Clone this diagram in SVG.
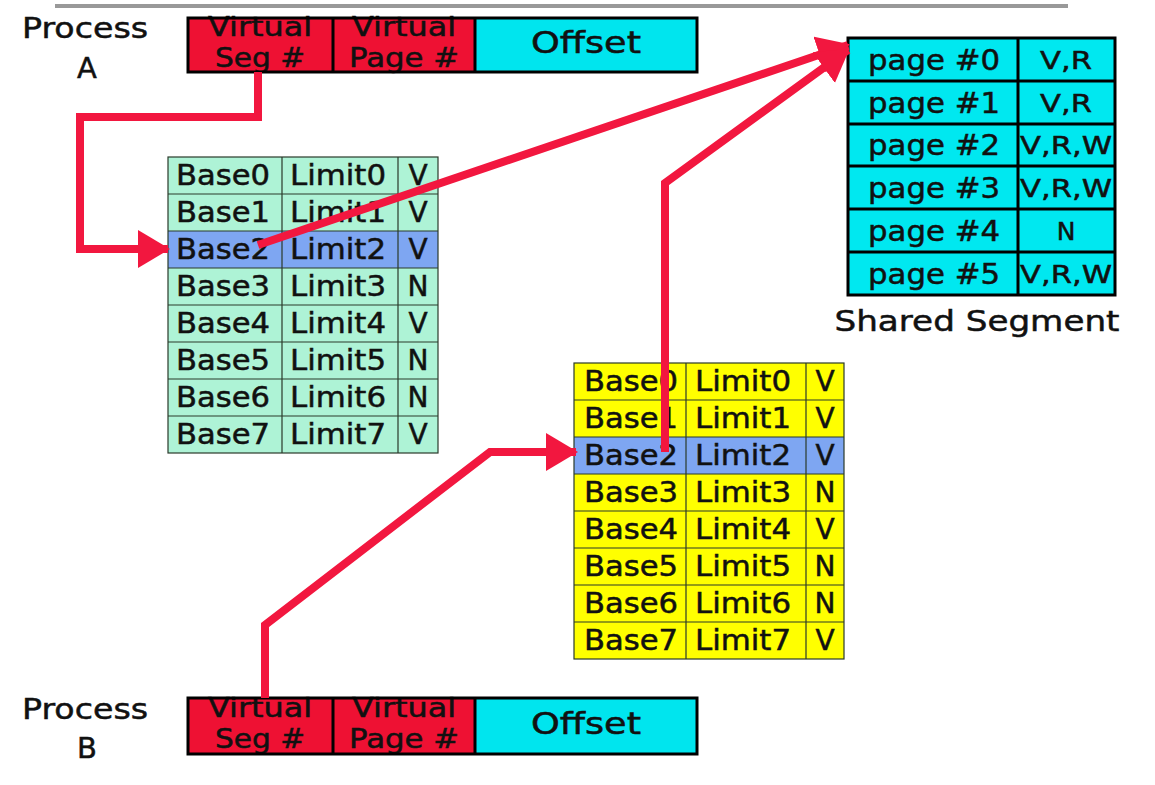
<svg xmlns="http://www.w3.org/2000/svg" width="1155" height="785" viewBox="0 0 1155 785">
<defs>
<style>
text{font-family:"DejaVu Sans","Liberation Sans",sans-serif;fill:#111;stroke:#111;stroke-width:0.5}
.lbl{font-size:29px}
.cell{font-size:28px}
.addr{font-size:26px;text-anchor:middle}
.off{font-size:30px;text-anchor:middle}
.pg{font-size:28px;text-anchor:middle}
.flag{font-size:25px;text-anchor:middle}
.grid{stroke:#2a3a2a;stroke-width:1.2;fill:none}
.thick{stroke:#000;stroke-width:3;fill:none}
.conn{stroke:#f2173f;stroke-width:8;fill:none;stroke-linejoin:miter}
</style>
<marker id="ah" markerUnits="userSpaceOnUse" markerWidth="32" markerHeight="38" refX="30" refY="19" orient="auto">
<path d="M0,0 L32,19 L0,38 z" fill="#f2173f"/>
</marker>
</defs>
<rect width="1155" height="785" fill="#fff"/>
<line x1="55" y1="6" x2="1068" y2="6" stroke="#999" stroke-width="4"/>

<g id="processA">
<text class="lbl" x="85" y="38" text-anchor="middle" textLength="126" lengthAdjust="spacingAndGlyphs">Process</text>
<text class="lbl" x="87" y="78" text-anchor="middle">A</text>
<rect x="188" y="18" width="145" height="54" fill="#ee1133"/>
<rect x="333" y="18" width="142" height="54" fill="#ee1133"/>
<rect x="475" y="18" width="222" height="54" fill="#00e5ee"/>
<text class="addr" x="260" y="36" textLength="104" lengthAdjust="spacingAndGlyphs">Virtual</text>
<text class="addr" x="260" y="67" textLength="90" lengthAdjust="spacingAndGlyphs">Seg #</text>
<text class="addr" x="404" y="36" textLength="104" lengthAdjust="spacingAndGlyphs">Virtual</text>
<text class="addr" x="404" y="67" textLength="110" lengthAdjust="spacingAndGlyphs">Page #</text>
<text class="off" x="586" y="53" textLength="110" lengthAdjust="spacingAndGlyphs">Offset</text>
<rect class="thick" x="188" y="18" width="509" height="54"/>
<line class="thick" x1="333" y1="18" x2="333" y2="72"/>
<line class="thick" x1="475" y1="18" x2="475" y2="72"/>
</g>

<g id="processB">
<text class="lbl" x="85" y="719" text-anchor="middle" textLength="126" lengthAdjust="spacingAndGlyphs">Process</text>
<text class="lbl" x="87" y="758" text-anchor="middle">B</text>
<rect x="188" y="698" width="145" height="56" fill="#ee1133"/>
<rect x="333" y="698" width="142" height="56" fill="#ee1133"/>
<rect x="475" y="698" width="222" height="56" fill="#00e5ee"/>
<text class="addr" x="260" y="717" textLength="104" lengthAdjust="spacingAndGlyphs">Virtual</text>
<text class="addr" x="260" y="748" textLength="90" lengthAdjust="spacingAndGlyphs">Seg #</text>
<text class="addr" x="404" y="717" textLength="104" lengthAdjust="spacingAndGlyphs">Virtual</text>
<text class="addr" x="404" y="748" textLength="110" lengthAdjust="spacingAndGlyphs">Page #</text>
<text class="off" x="586" y="734" textLength="110" lengthAdjust="spacingAndGlyphs">Offset</text>
<rect class="thick" x="188" y="698" width="509" height="56"/>
<line class="thick" x1="333" y1="698" x2="333" y2="754"/>
<line class="thick" x1="475" y1="698" x2="475" y2="754"/>
</g>

<g id="segTableA">
<rect x="168" y="157" width="270" height="296" fill="#aef3d6"/>
<rect x="168" y="231" width="270" height="37" fill="#7ea6f2"/>
<rect class="grid" x="168" y="157" width="270" height="296"/>
<path class="grid" d="M282,157V453M398,157V453M168,194H438M168,231H438M168,268H438M168,305H438M168,342H438M168,379H438M168,416H438"/>
<g class="cell">
<text x="176" y="185" textLength="94" lengthAdjust="spacingAndGlyphs">Base0</text><text x="290" y="185" textLength="96" lengthAdjust="spacingAndGlyphs">Limit0</text><text x="418" y="185" text-anchor="middle">V</text>
<text x="176" y="222" textLength="94" lengthAdjust="spacingAndGlyphs">Base1</text><text x="290" y="222" textLength="96" lengthAdjust="spacingAndGlyphs">Limit1</text><text x="418" y="222" text-anchor="middle">V</text>
<text x="176" y="259" textLength="94" lengthAdjust="spacingAndGlyphs">Base2</text><text x="290" y="259" textLength="96" lengthAdjust="spacingAndGlyphs">Limit2</text><text x="418" y="259" text-anchor="middle">V</text>
<text x="176" y="296" textLength="94" lengthAdjust="spacingAndGlyphs">Base3</text><text x="290" y="296" textLength="96" lengthAdjust="spacingAndGlyphs">Limit3</text><text x="418" y="296" text-anchor="middle">N</text>
<text x="176" y="333" textLength="94" lengthAdjust="spacingAndGlyphs">Base4</text><text x="290" y="333" textLength="96" lengthAdjust="spacingAndGlyphs">Limit4</text><text x="418" y="333" text-anchor="middle">V</text>
<text x="176" y="370" textLength="94" lengthAdjust="spacingAndGlyphs">Base5</text><text x="290" y="370" textLength="96" lengthAdjust="spacingAndGlyphs">Limit5</text><text x="418" y="370" text-anchor="middle">N</text>
<text x="176" y="407" textLength="94" lengthAdjust="spacingAndGlyphs">Base6</text><text x="290" y="407" textLength="96" lengthAdjust="spacingAndGlyphs">Limit6</text><text x="418" y="407" text-anchor="middle">N</text>
<text x="176" y="444" textLength="94" lengthAdjust="spacingAndGlyphs">Base7</text><text x="290" y="444" textLength="96" lengthAdjust="spacingAndGlyphs">Limit7</text><text x="418" y="444" text-anchor="middle">V</text>
</g>
</g>

<g id="segTableB">
<rect x="574" y="363" width="270" height="296" fill="#ffff00"/>
<rect x="574" y="437" width="270" height="37" fill="#7ea6f2"/>
<rect class="grid" x="574" y="363" width="270" height="296"/>
<path class="grid" d="M686,363V659M806,363V659M574,400H844M574,437H844M574,474H844M574,511H844M574,548H844M574,585H844M574,622H844"/>
<g class="cell">
<text x="584" y="391" textLength="94" lengthAdjust="spacingAndGlyphs">Base0</text><text x="695" y="391" textLength="96" lengthAdjust="spacingAndGlyphs">Limit0</text><text x="825" y="391" text-anchor="middle">V</text>
<text x="584" y="428" textLength="94" lengthAdjust="spacingAndGlyphs">Base1</text><text x="695" y="428" textLength="96" lengthAdjust="spacingAndGlyphs">Limit1</text><text x="825" y="428" text-anchor="middle">V</text>
<text x="584" y="465" textLength="94" lengthAdjust="spacingAndGlyphs">Base2</text><text x="695" y="465" textLength="96" lengthAdjust="spacingAndGlyphs">Limit2</text><text x="825" y="465" text-anchor="middle">V</text>
<text x="584" y="502" textLength="94" lengthAdjust="spacingAndGlyphs">Base3</text><text x="695" y="502" textLength="96" lengthAdjust="spacingAndGlyphs">Limit3</text><text x="825" y="502" text-anchor="middle">N</text>
<text x="584" y="539" textLength="94" lengthAdjust="spacingAndGlyphs">Base4</text><text x="695" y="539" textLength="96" lengthAdjust="spacingAndGlyphs">Limit4</text><text x="825" y="539" text-anchor="middle">V</text>
<text x="584" y="576" textLength="94" lengthAdjust="spacingAndGlyphs">Base5</text><text x="695" y="576" textLength="96" lengthAdjust="spacingAndGlyphs">Limit5</text><text x="825" y="576" text-anchor="middle">N</text>
<text x="584" y="613" textLength="94" lengthAdjust="spacingAndGlyphs">Base6</text><text x="695" y="613" textLength="96" lengthAdjust="spacingAndGlyphs">Limit6</text><text x="825" y="613" text-anchor="middle">N</text>
<text x="584" y="650" textLength="94" lengthAdjust="spacingAndGlyphs">Base7</text><text x="695" y="650" textLength="96" lengthAdjust="spacingAndGlyphs">Limit7</text><text x="825" y="650" text-anchor="middle">V</text>
</g>
</g>

<g id="sharedSegment">
<rect x="848" y="38" width="267" height="257" fill="#00e8f0"/>
<rect class="thick" x="848" y="38" width="267" height="257"/>
<path class="thick" d="M1018,38V295M848,81H1115M848,124H1115M848,166H1115M848,209H1115M848,252H1115"/>
<text class="pg" x="934" y="70" textLength="132" lengthAdjust="spacingAndGlyphs">page #0</text><text class="flag" x="1066" y="69" textLength="52" lengthAdjust="spacingAndGlyphs">V,R</text>
<text class="pg" x="934" y="113" textLength="132" lengthAdjust="spacingAndGlyphs">page #1</text><text class="flag" x="1066" y="112" textLength="52" lengthAdjust="spacingAndGlyphs">V,R</text>
<text class="pg" x="934" y="155" textLength="132" lengthAdjust="spacingAndGlyphs">page #2</text><text class="flag" x="1066" y="154" textLength="92" lengthAdjust="spacingAndGlyphs">V,R,W</text>
<text class="pg" x="934" y="198" textLength="132" lengthAdjust="spacingAndGlyphs">page #3</text><text class="flag" x="1066" y="197" textLength="92" lengthAdjust="spacingAndGlyphs">V,R,W</text>
<text class="pg" x="934" y="241" textLength="132" lengthAdjust="spacingAndGlyphs">page #4</text><text class="flag" x="1066" y="240">N</text>
<text class="pg" x="934" y="284" textLength="132" lengthAdjust="spacingAndGlyphs">page #5</text><text class="flag" x="1066" y="283" textLength="92" lengthAdjust="spacingAndGlyphs">V,R,W</text>
<text class="lbl" x="977" y="331" text-anchor="middle" textLength="285" lengthAdjust="spacingAndGlyphs">Shared Segment</text>
</g>

<g id="connectors">
<path class="conn" d="M258,72 V117 H80 V249 H168" marker-end="url(#ah)"/>
<path class="conn" d="M258,245 L848,45" marker-end="url(#ah)"/>
<path class="conn" d="M265,698 V625 L490,452 H576" marker-end="url(#ah)"/>
<path class="conn" d="M665,452 V183 L848,50" marker-end="url(#ah)"/>
</g>
</svg>
